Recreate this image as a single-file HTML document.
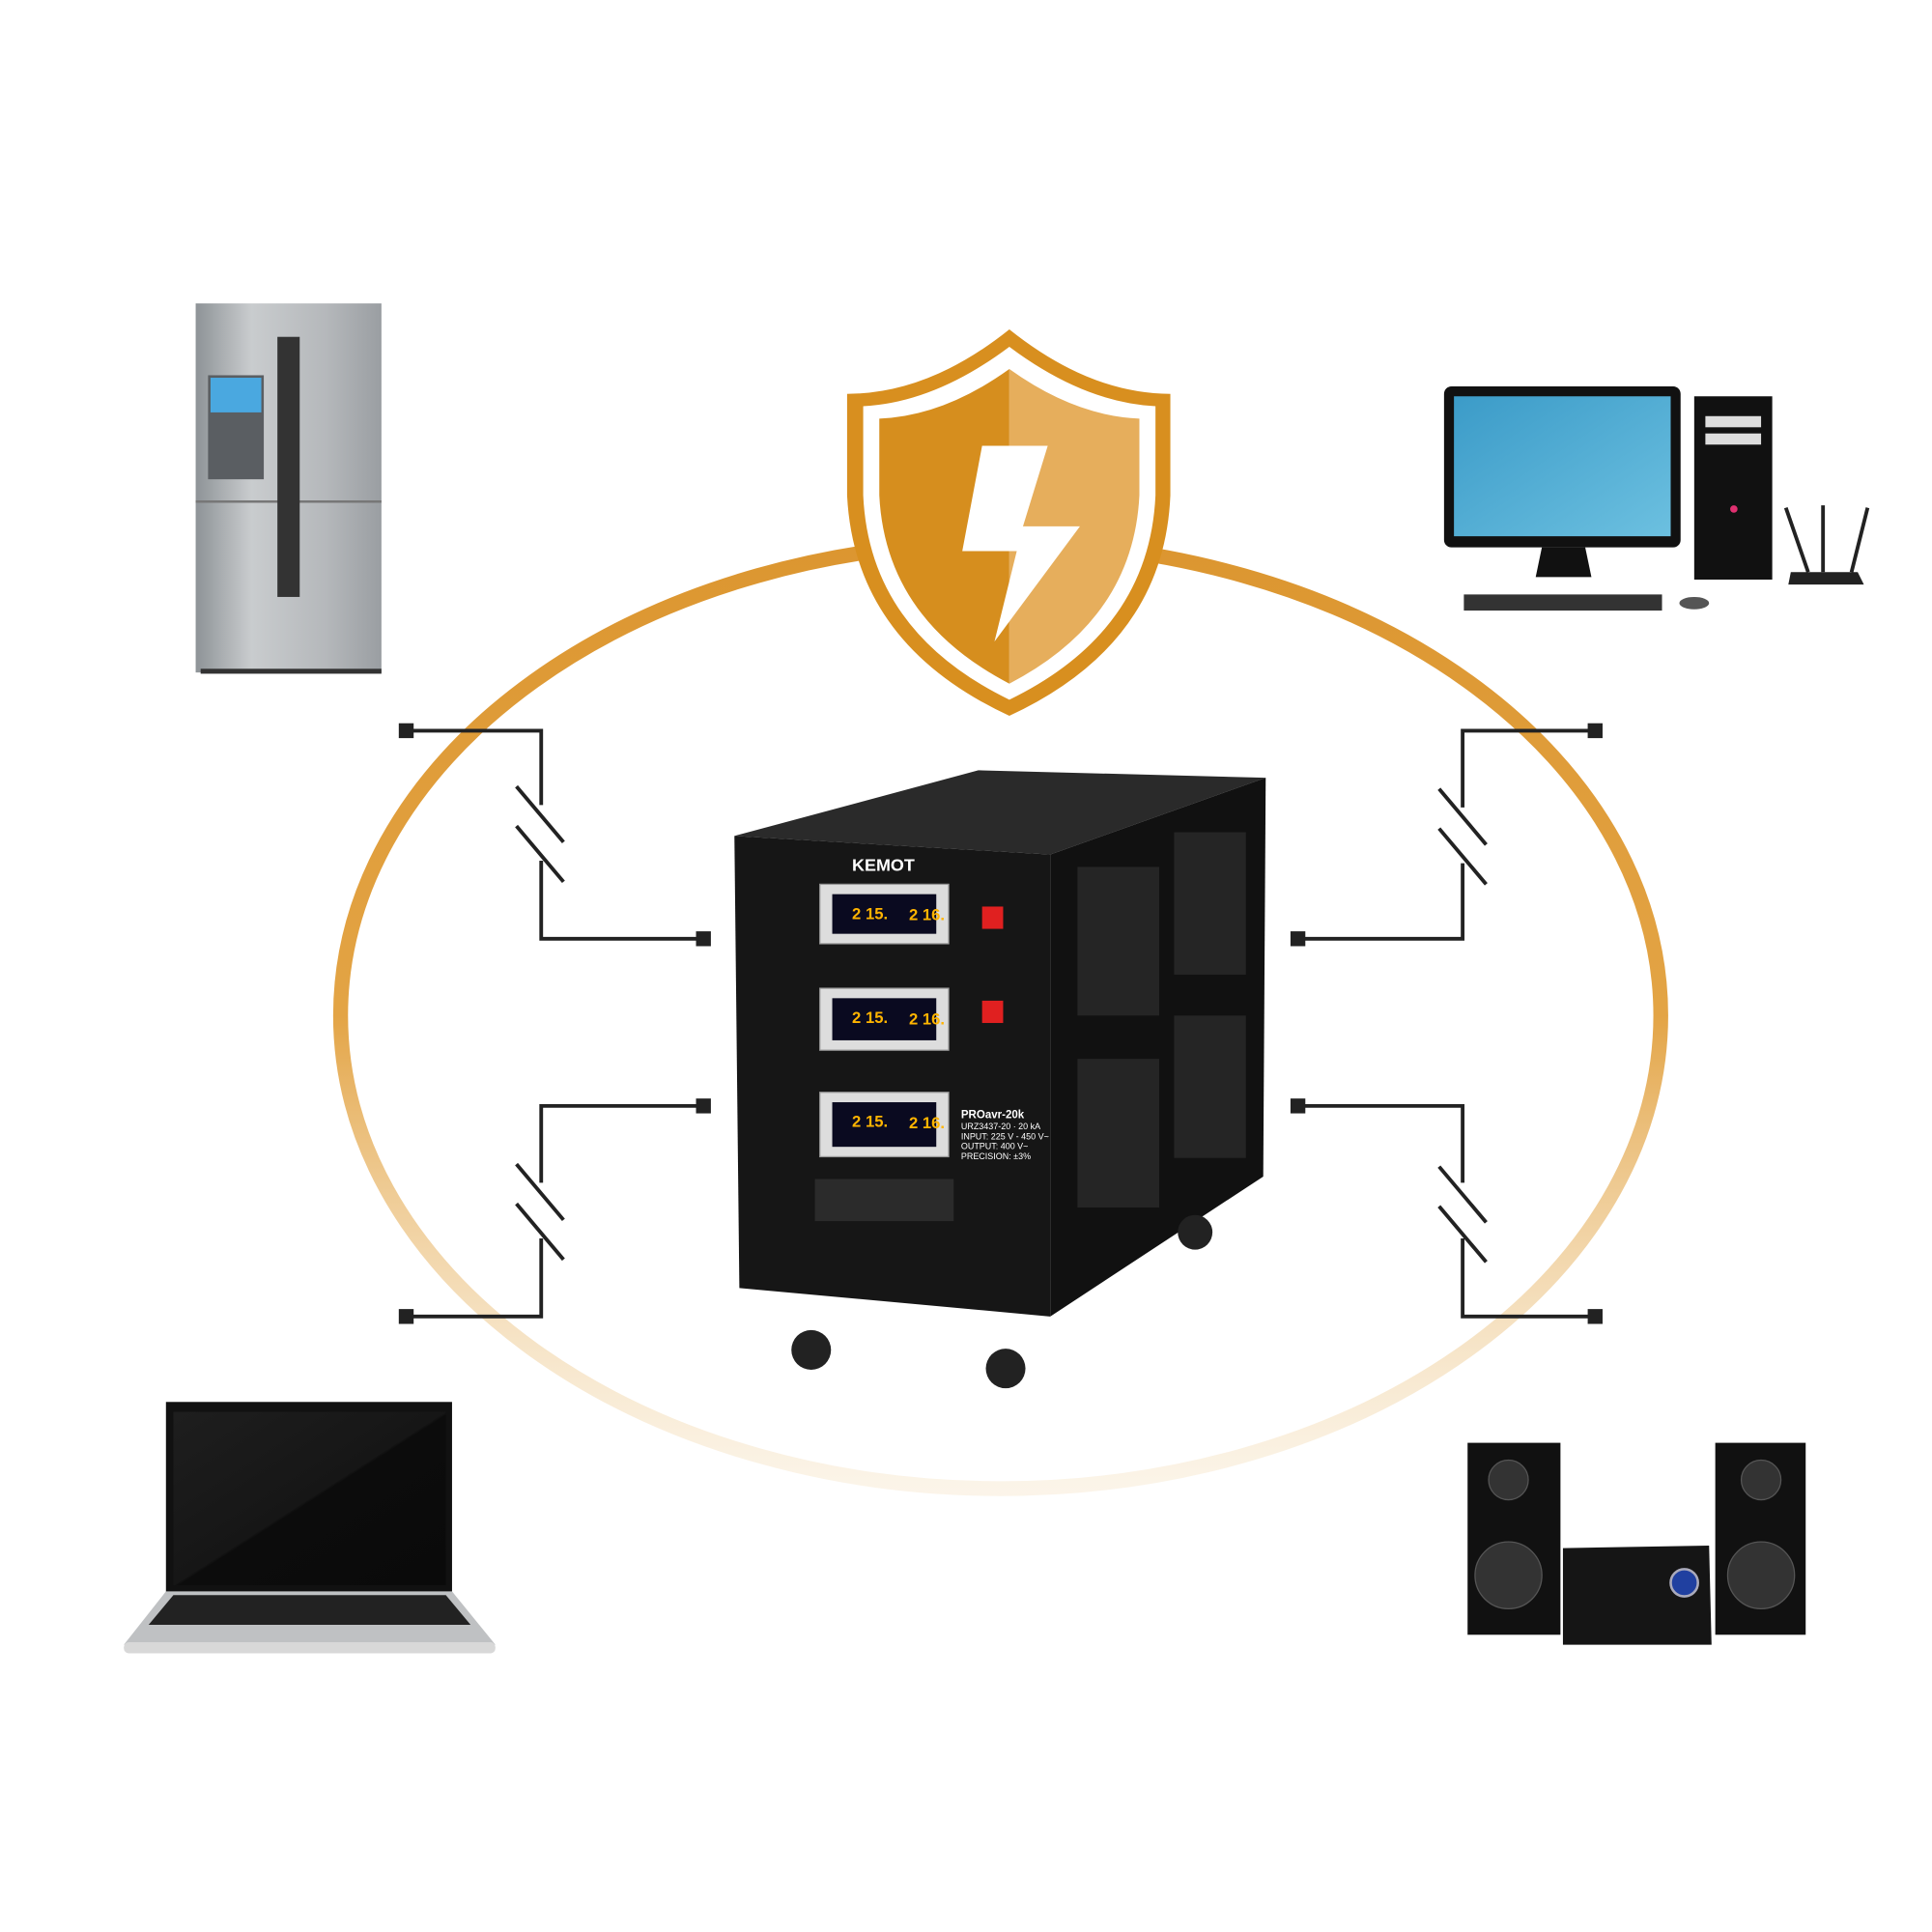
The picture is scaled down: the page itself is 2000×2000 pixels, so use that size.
<!DOCTYPE html>
<html><head><meta charset="utf-8"><style>html,body{margin:0;padding:0;background:#fff}svg{display:block}</style></head><body>
<svg width="2000" height="2000" viewBox="0 0 1560 1560" xmlns="http://www.w3.org/2000/svg" font-family="Liberation Sans, sans-serif">
<defs>
<linearGradient id="eg" x1="0" y1="0" x2="0" y2="1">
<stop offset="0" stop-color="#dc9630"/><stop offset="0.5" stop-color="#e3a445"/><stop offset="1" stop-color="#f3dcb5" stop-opacity="0.3"/></linearGradient>
<linearGradient id="fr" x1="0" y1="0" x2="1" y2="0">
<stop offset="0" stop-color="#8e9397"/><stop offset="0.3" stop-color="#c9ccce"/><stop offset="0.7" stop-color="#b5b8bb"/><stop offset="1" stop-color="#9a9ea2"/></linearGradient>
<linearGradient id="mon" x1="0" y1="0" x2="1" y2="1">
<stop offset="0" stop-color="#3b9bc8"/><stop offset="1" stop-color="#6cc0e0"/></linearGradient>
<linearGradient id="lap" x1="0" y1="0" x2="1" y2="1">
<stop offset="0" stop-color="#1e1e1e"/><stop offset="0.5" stop-color="#161616"/><stop offset="0.51" stop-color="#0c0c0c"/><stop offset="1" stop-color="#0a0a0a"/></linearGradient>
</defs>
<ellipse cx="808" cy="820" rx="533" ry="382" fill="none" stroke="url(#eg)" stroke-width="12"/>
<g stroke="#222" stroke-width="3" fill="none">
<polyline points="328,590 437,590 437,650"/><polyline points="437,695 437,758 568,758"/>
<line x1="417" y1="635" x2="455" y2="680"/><line x1="417" y1="667" x2="455" y2="712"/>
<polyline points="568,893 437,893 437,955"/><polyline points="437,1000 437,1063 328,1063"/>
<line x1="417" y1="940" x2="455" y2="985"/><line x1="417" y1="972" x2="455" y2="1017"/>
<polyline points="1288,590 1181,590 1181,652"/><polyline points="1181,697 1181,758 1048,758"/>
<line x1="1162" y1="637" x2="1200" y2="682"/><line x1="1162" y1="669" x2="1200" y2="714"/>
<polyline points="1048,893 1181,893 1181,955"/><polyline points="1181,1000 1181,1063 1288,1063"/>
<line x1="1162" y1="942" x2="1200" y2="987"/><line x1="1162" y1="974" x2="1200" y2="1019"/>
</g>
<g fill="#222">
<rect x="322" y="584" width="12" height="12"/><rect x="562" y="752" width="12" height="12"/>
<rect x="562" y="887" width="12" height="12"/><rect x="322" y="1057" width="12" height="12"/>
<rect x="1282" y="584" width="12" height="12"/><rect x="1042" y="752" width="12" height="12"/>
<rect x="1042" y="887" width="12" height="12"/><rect x="1282" y="1057" width="12" height="12"/>
</g>
<path d="M815,266 Q750,318 684,318 L684,400 Q690,520 815,578 Q940,520 945,400 L945,318 Q880,318 815,266Z" fill="#d88f1f"/>
<path d="M815,280 Q755,325 697,328 L697,400 Q702,510 815,565 Q928,510 933,400 L933,328 Q875,325 815,280Z" fill="#fff"/>
<path d="M815,298 Q762,336 710,338 L710,400 Q715,500 815,552 L815,298Z" fill="#d68e1e"/>
<path d="M815,298 Q868,336 920,338 L920,400 Q915,500 815,552 L815,298Z" fill="#e6ae5c"/>
<path d="M793,360 L846,360 L826,425 L872,425 L803,518 L821,445 L777,445Z" fill="#fff"/>
<path d="M593,675 L790,622 L1022,628 L848,690Z" fill="#2a2a2a"/>
<path d="M848,690 L1022,628 L1020,950 L848,1063Z" fill="#111"/>
<path d="M593,675 L848,690 L848,1063 L597,1040Z" fill="#161616"/>
<g fill="#252525"><rect x="870" y="700" width="66" height="120"/><rect x="948" y="672" width="58" height="115"/><rect x="870" y="855" width="66" height="120"/><rect x="948" y="820" width="58" height="115"/></g>
<text x="688" y="703" fill="#fff" font-size="14" font-weight="bold">KEMOT</text>
<g fill="#ddd" stroke="#999"><rect x="662" y="714" width="104" height="48"/><rect x="662" y="798" width="104" height="50"/><rect x="662" y="882" width="104" height="52"/></g>
<g fill="#0a0a20"><rect x="672" y="722" width="84" height="32"/><rect x="672" y="806" width="84" height="34"/><rect x="672" y="890" width="84" height="36"/></g>
<g fill="#ffb400" font-size="13" font-weight="bold"><text x="688" y="742">2 15.</text><text x="734" y="743">2 16.</text><text x="688" y="826">2 15.</text><text x="734" y="827">2 16.</text><text x="688" y="910">2 15.</text><text x="734" y="911">2 16.</text></g>
<rect x="793" y="732" width="17" height="18" fill="#e02020"/><rect x="793" y="808" width="17" height="18" fill="#e02020"/>
<g fill="#fff" font-size="7"><text x="776" y="903" font-size="9" font-weight="bold">PROavr-20k</text><text x="776" y="912">URZ3437-20 · 20 kA</text><text x="776" y="920">INPUT: 225 V - 450 V~</text><text x="776" y="928">OUTPUT: 400 V~</text><text x="776" y="936">PRECISION: ±3%</text></g>
<rect x="658" y="952" width="112" height="34" fill="#2b2b2b"/>
<g fill="#222"><circle cx="655" cy="1090" r="16"/><circle cx="812" cy="1105" r="16"/><circle cx="965" cy="995" r="14"/></g>
<rect x="158" y="245" width="150" height="298" fill="url(#fr)"/>
<line x1="158" y1="405" x2="308" y2="405" stroke="#777" stroke-width="2"/>
<rect x="224" y="272" width="18" height="210" fill="#333"/>
<rect x="168" y="303" width="45" height="84" fill="#5a5e62"/><rect x="170" y="305" width="41" height="28" fill="#4aa8e0"/>
<rect x="162" y="540" width="146" height="4" fill="#333"/>
<rect x="1166" y="312" width="191" height="130" rx="6" fill="#111"/><rect x="1174" y="320" width="175" height="113" fill="url(#mon)"/>
<path d="M1245,442 L1280,442 L1285,466 L1240,466Z" fill="#111"/>
<rect x="1368" y="320" width="63" height="148" fill="#111"/>
<rect x="1377" y="336" width="45" height="9" fill="#ddd"/><rect x="1377" y="350" width="45" height="9" fill="#ddd"/>
<circle cx="1400" cy="411" r="3" fill="#e03070"/>
<rect x="1182" y="480" width="160" height="13" fill="#333"/><ellipse cx="1368" cy="487" rx="12" ry="5" fill="#555"/>
<path d="M1446,462 L1500,462 L1505,472 L1444,472Z" fill="#222"/><line x1="1442" y1="410" x2="1460" y2="462" stroke="#222" stroke-width="3"/><line x1="1508" y1="410" x2="1495" y2="462" stroke="#222" stroke-width="3"/><line x1="1472" y1="408" x2="1472" y2="462" stroke="#222" stroke-width="3"/>
<rect x="134" y="1132" width="231" height="155" fill="#111"/><rect x="140" y="1140" width="220" height="140" fill="url(#lap)"/>
<path d="M134,1285 L365,1285 L400,1328 L100,1328Z" fill="#bfc1c3"/>
<path d="M140,1288 L360,1288 L380,1312 L120,1312Z" fill="#222"/>
<rect x="100" y="1326" width="300" height="9" rx="4" fill="#d8d8d8"/>
<rect x="1185" y="1165" width="75" height="155" fill="#111"/><rect x="1385" y="1165" width="73" height="155" fill="#111"/>
<g fill="#333" stroke="#555"><circle cx="1218" cy="1195" r="16"/><circle cx="1218" cy="1272" r="27"/><circle cx="1422" cy="1195" r="16"/><circle cx="1422" cy="1272" r="27"/></g>
<path d="M1262,1250 L1380,1248 L1382,1328 L1262,1328Z" fill="#151515"/>
<circle cx="1360" cy="1278" r="11" fill="#2040a0" stroke="#aab" stroke-width="2"/>
</svg>
</body></html>
